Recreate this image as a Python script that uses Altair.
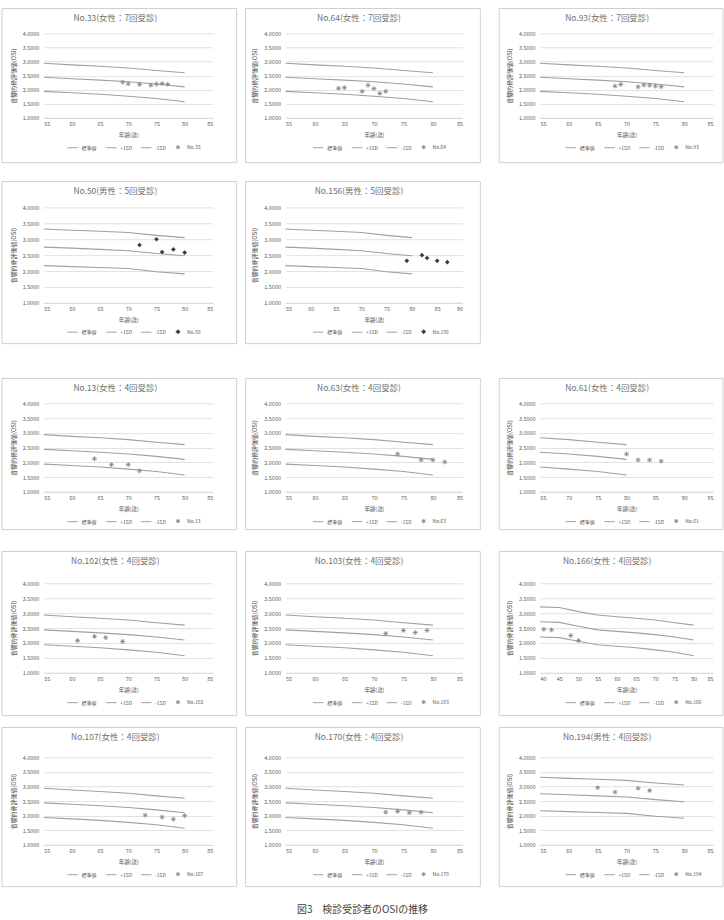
import altair as alt
import pandas as pd

FONT = "Noto Sans CJK JP"
GRID = "#d9d9d9"
TEXT = "#595959"
LINE = "#a0a0a0"
FRAME = "#d0d0d0"

# Reference curves (標準値 and ±1SD) by age
F_AGE = [40, 45, 50, 55, 60, 65, 70, 75, 80]
F_MEAN = [2.71, 2.69, 2.56, 2.44, 2.39, 2.34, 2.28, 2.20, 2.10]
F_PLUS = [3.21, 3.19, 3.05, 2.94, 2.88, 2.83, 2.77, 2.68, 2.60]
F_MINUS = [2.20, 2.18, 2.06, 1.94, 1.89, 1.84, 1.77, 1.69, 1.57]

M_AGE = [55, 60, 65, 70, 75, 80]
M_MEAN = [2.75, 2.72, 2.68, 2.64, 2.55, 2.48]
M_PLUS = [3.32, 3.28, 3.25, 3.21, 3.12, 3.05]
M_MINUS = [2.17, 2.14, 2.11, 2.08, 1.98, 1.91]

# Individual OSI records (age, value)
NO33_AGE = [69, 70, 72, 74, 75, 76, 77]
NO33_OSI = [2.27, 2.21, 2.19, 2.16, 2.20, 2.22, 2.19]
NO64_AGE = [64, 65, 68, 69, 70, 71, 72]
NO64_OSI = [2.05, 2.07, 1.94, 2.16, 2.04, 1.87, 1.94]
NO93_AGE = [68, 69, 72, 73, 74, 75, 76]
NO93_OSI = [2.13, 2.19, 2.10, 2.17, 2.16, 2.13, 2.11]
NO50_AGE = [72, 75, 76, 78, 80]
NO50_OSI = [2.82, 3.00, 2.60, 2.68, 2.58]
NO156_AGE = [79, 82, 83, 85, 87]
NO156_OSI = [2.32, 2.50, 2.41, 2.32, 2.28]
NO13_AGE = [64, 67, 70, 72]
NO13_OSI = [2.12, 1.92, 1.92, 1.71]
NO63_AGE = [74, 78, 80, 82]
NO63_OSI = [2.28, 2.08, 2.08, 2.01]
NO61_AGE = [80, 82, 84, 86]
NO61_OSI = [2.28, 2.08, 2.08, 2.04]
NO102_AGE = [61, 64, 66, 69]
NO102_OSI = [2.08, 2.22, 2.18, 2.05]
NO103_AGE = [72, 75, 77, 79]
NO103_OSI = [2.32, 2.42, 2.35, 2.42]
NO166_AGE = [41, 43, 48, 50]
NO166_OSI = [2.46, 2.44, 2.25, 2.08]
NO107_AGE = [73, 76, 78, 80]
NO107_OSI = [2.02, 1.95, 1.88, 2.00]
NO170_AGE = [72, 74, 76, 78]
NO170_OSI = [2.12, 2.15, 2.10, 2.12]
NO194_AGE = [65, 68, 72, 74]
NO194_OSI = [2.96, 2.81, 2.94, 2.86]

Y_TICKS = [1.0, 1.5, 2.0, 2.5, 3.0, 3.5, 4.0]

ASTERISK = ("M-0.4,0L0.4,0M0,-0.4L0,0.4"
            "M-0.28,-0.28L0.28,0.28M-0.28,0.28L0.28,-0.28")
DOT = "M0,-0.38L0.38,0L0,0.38L-0.38,0Z"


def panel(no, sex, visits, ages, osi, x0, x1, w, h, fl, fr, ft, fb,
          filled=False):
    if sex == "女性":
        s_age, s_mean, s_plus, s_minus = F_AGE, F_MEAN, F_PLUS, F_MINUS
    else:
        s_age, s_mean, s_plus, s_minus = M_AGE, M_MEAN, M_PLUS, M_MINUS
    label = f"No.{no}"
    domain = ["標準値", "+1SD", "-1SD", label]

    rows = []
    for name, vals in (("標準値", s_mean), ("+1SD", s_plus), ("-1SD", s_minus)):
        for a, v in zip(s_age, vals):
            if a >= x0:
                rows.append({"age": a, "osi": v, "series": name})
    lines_df = pd.DataFrame(rows)
    pts_df = pd.DataFrame({"age": ages, "osi": osi, "series": [label] * len(ages)})

    legend = alt.Legend(
        title=None, orient="none", direction="horizontal",
        legendX=w / 2 - 62, legendY=h + 23,
        labelFontSize=5, labelColor=TEXT, labelFont=FONT,
        symbolSize=110, symbolStrokeWidth=1, columnPadding=6,
        labelOffset=3,
    )
    pt_color = "#3a3a3a" if filled else "#8a8a8a"
    color = alt.Color("series:N", legend=legend,
                      scale=alt.Scale(domain=domain,
                                      range=[LINE, LINE, LINE, pt_color]))
    shape = alt.Shape("series:N", legend=legend,
                      scale=alt.Scale(domain=domain,
                                      range=["stroke", "stroke", "stroke",
                                             DOT if filled else ASTERISK]))
    x = alt.X("age:Q", scale=alt.Scale(domain=[x0, x1], nice=False, zero=False),
              axis=alt.Axis(title="年齢(歳)", values=list(range(x0, x1 + 1, 5)),
                            format="d", grid=False, ticks=False,
                            domainColor=GRID, labelPadding=4, titlePadding=5))
    y = alt.Y("osi:Q", scale=alt.Scale(domain=[1, 4], nice=False, zero=False),
              axis=alt.Axis(title="音響的骨評価値(OSI)", values=Y_TICKS,
                            format=".4f", grid=True, ticks=False, domain=False,
                            labelPadding=5, titlePadding=6,
                            titleFontSize=6, titleColor="#404040"))

    lines = alt.Chart(lines_df).mark_line(strokeWidth=1.1).encode(
        x=x, y=y, color=color)
    pts = alt.Chart(pts_df).mark_point(filled=filled, size=150,
                                       strokeWidth=0.9, opacity=1).encode(
        x=x, y=y, color=color, shape=shape)
    frame = alt.Chart(pd.DataFrame({"k": [0]})).mark_rect(
        fill="transparent", stroke=FRAME, strokeWidth=1, clip=False).encode(
        x=alt.value(-fl), x2=alt.value(w + fr),
        y=alt.value(-ft), y2=alt.value(h + fb))
    heading = alt.Chart(pd.DataFrame({"k": [0]})).mark_text(
        font=FONT, fontSize=8.5, fontWeight="normal", color="#707070",
        baseline="middle", align="center", clip=False).encode(
        text=alt.value(f"{label}({sex}：{visits}回受診)"),
        x=alt.value((w + fr - fl) / 2 - 4), y=alt.value(-ft + 10))
    return alt.layer(frame, heading, lines, pts).properties(width=w, height=h)


def hcat(*charts, spacing):
    return alt.hconcat(*charts, spacing=spacing).resolve_scale(
        color="independent", shape="independent")


def vcat(*charts, spacing):
    return alt.vconcat(*charts, spacing=spacing).resolve_scale(
        color="independent", shape="independent")


C1 = dict(w=170, fl=42, fr=24)
C2 = dict(w=178, fl=40, fr=18)
C3 = dict(w=174, fl=41, fr=10)
R1 = dict(h=85, ft=25, fb=45)
R2 = dict(h=96, ft=26, fb=41)
R3 = dict(h=89, ft=25, fb=38)
R4 = dict(h=90, ft=32, fb=43)
R5 = dict(h=88, ft=30, fb=42)

row1 = hcat(
    hcat(
        panel(33, "女性", 7, NO33_AGE, NO33_OSI, 55, 85, **C1, **R1),
        panel(64, "女性", 7, NO64_AGE, NO64_OSI, 55, 85, **C2, **R1),
        spacing=7),
    panel(93, "女性", 7, NO93_AGE, NO93_OSI, 55, 85, **C3, **R1),
    spacing=17)
row2 = hcat(
    panel(50, "男性", 5, NO50_AGE, NO50_OSI, 55, 85, **C1, **R2, filled=True),
    panel(156, "男性", 5, NO156_AGE, NO156_OSI, 55, 90, **C2, **R2, filled=True),
    spacing=7)
row3 = hcat(
    hcat(
        panel(13, "女性", 4, NO13_AGE, NO13_OSI, 55, 85, **C1, **R3),
        panel(63, "女性", 4, NO63_AGE, NO63_OSI, 55, 85, **C2, **R3),
        spacing=7),
    panel(61, "女性", 4, NO61_AGE, NO61_OSI, 65, 95, **C3, **R3),
    spacing=17)
row4 = hcat(
    hcat(
        panel(102, "女性", 4, NO102_AGE, NO102_OSI, 55, 85, **C1, **R4),
        panel(103, "女性", 4, NO103_AGE, NO103_OSI, 55, 85, **C2, **R4),
        spacing=7),
    panel(166, "女性", 4, NO166_AGE, NO166_OSI, 40, 85, **C3, **R4),
    spacing=17)
row5 = hcat(
    hcat(
        panel(107, "女性", 4, NO107_AGE, NO107_OSI, 55, 85, **C1, **R5),
        panel(170, "女性", 4, NO170_AGE, NO170_OSI, 55, 85, **C2, **R5),
        spacing=7),
    panel(194, "男性", 4, NO194_AGE, NO194_OSI, 55, 85, **C3, **R5),
    spacing=17)

chart = vcat(
    vcat(
        vcat(
            vcat(row1, row2, spacing=17),
            row3, spacing=33),
        row4, spacing=20),
    row5, spacing=10,
).properties(
    title=alt.TitleParams("図3　検診受診者のOSIの推移", orient="bottom",
                          anchor="middle", fontSize=10, font=FONT,
                          color="#404040", fontWeight="normal", offset=18),
    padding={"left": 1, "top": 5, "right": 0, "bottom": 0},
    background="white",
).configure_view(
    stroke=None
).configure_axis(
    labelFont=FONT, titleFont=FONT, labelColor=TEXT, titleColor=TEXT,
    labelFontSize=5.5, titleFontSize=5.5, titleFontWeight="normal",
    gridColor=GRID, gridWidth=0.8,
)

chart.save("out.html", embed_options={"renderer": "svg", "actions": False})
